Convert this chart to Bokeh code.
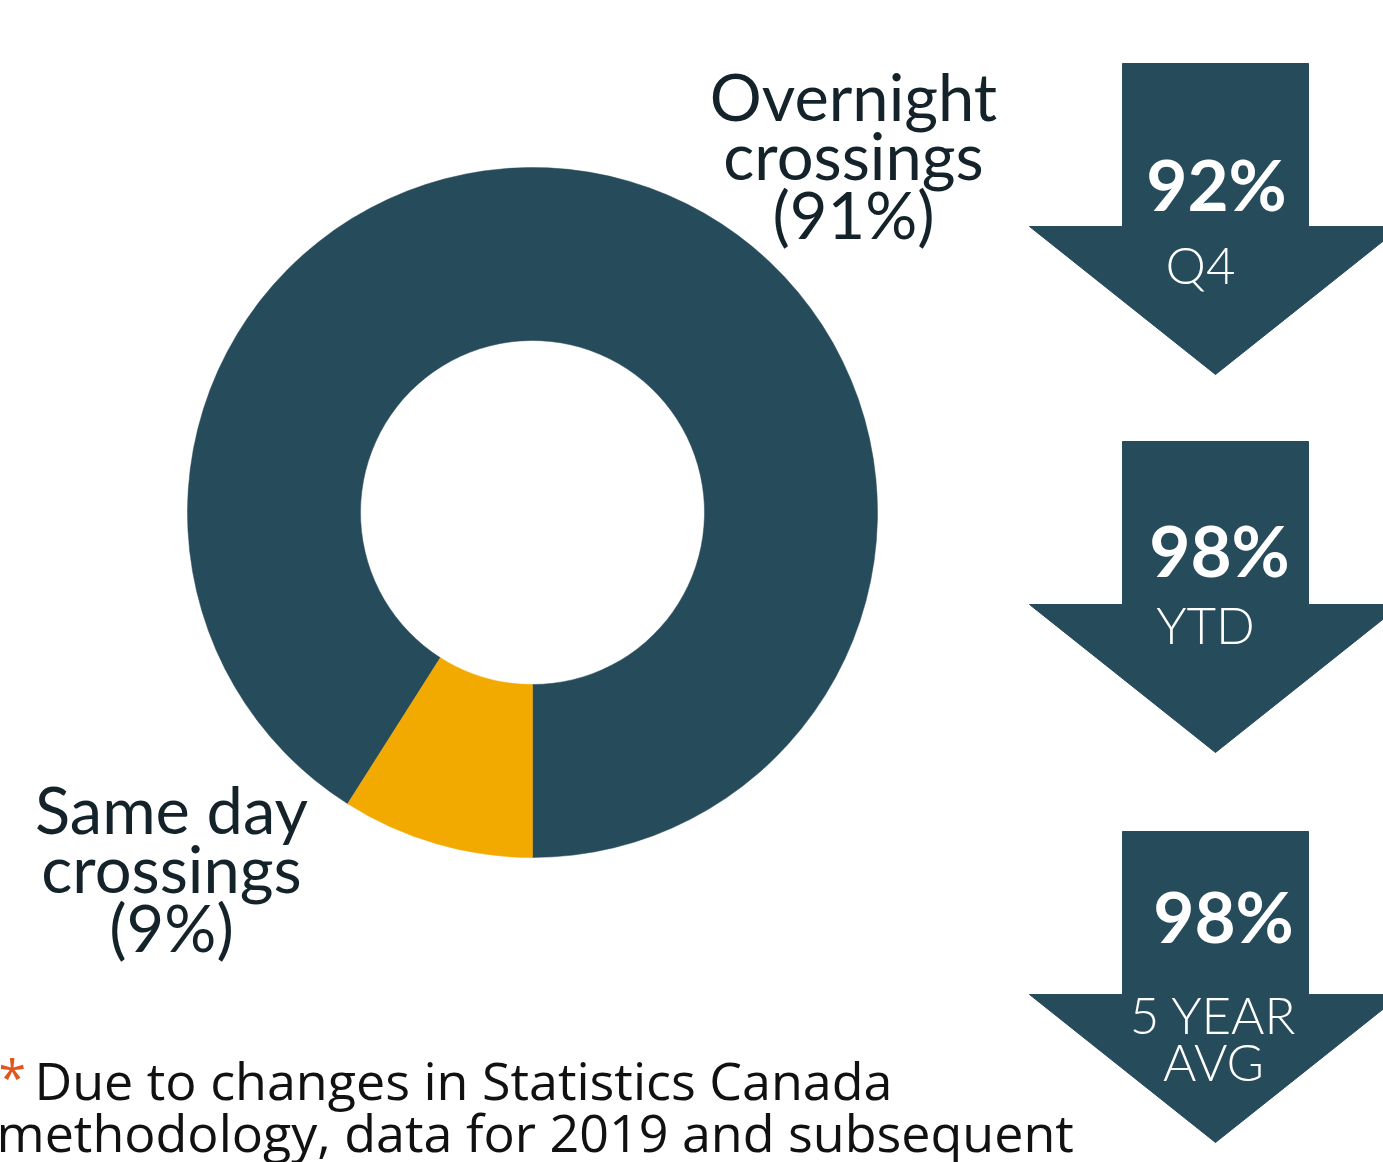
from math import pi
from bokeh.plotting import figure
from bokeh.models import Range1d, ColumnDataSource
from bokeh.core.properties import value
from bokeh.embed import file_html
from bokeh.resources import INLINE

# ---- data ----
categories = ["Overnight crossings", "Same day crossings"]
shares = [91, 9]
slice_labels = ["Overnight\ncrossings\n(91%)", "Same day\ncrossings\n(9%)"]
arrow_values = ["92%", "98%", "98%"]
arrow_periods = ["Q4", "YTD", "5 YEAR\nAVG"]
footnote_lines = ["Due to changes in Statistics Canada",
                  "methodology, data for 2019 and subsequent"]

DARK = "#264B5B"
GOLD = "#F2AA00"
INK = "#14222A"

W, H = 1383, 1162
p = figure(width=W, height=H, output_backend="svg", toolbar_location=None,
           x_range=Range1d(0, W), y_range=Range1d(0, H), min_border=0)
p.axis.visible = False
p.grid.visible = False
p.outline_line_color = None
p.background_fill_color = "white"

def Y(v):
    return H - v

def split_lines(labels, xs, ys_first, spacing):
    ox, oy, ot = [], [], []
    for lab, x, y0 in zip(labels, xs, ys_first):
        for i, line in enumerate(lab.split("\n")):
            ox.append(x)
            oy.append(Y(y0 + i * spacing))
            ot.append(line)
    return ox, oy, ot

# ---- donut ----
cx, cy = 532, Y(512)
base = 3 * pi / 2
same_start = base - shares[1] / 100 * 2 * pi
starts = [base, same_start]
ends = [base + shares[0] / 100 * 2 * pi, base]
src = ColumnDataSource(dict(cat=categories, start=starts, end=ends, color=[DARK, GOLD]))
p.annular_wedge(x=cx, y=cy, inner_radius=172, outer_radius=345,
                start_angle="start", end_angle="end", direction="anticlock",
                fill_color="color", line_color="color", line_width=0.5, source=src,
                inner_radius_units="screen", outer_radius_units="screen")

# ---- slice labels ----
lx, ly, lt = split_lines(slice_labels, [853, 171], [95, 808], 59)
p.text(x=lx, y=ly, text=lt,
       text_font=value("Lato"), text_font_size="65px", text_color=INK,
       text_align="center", text_baseline="middle")

# ---- arrows ----
tops = [63, 441, 831]
xs, ys = [], []
for t in tops:
    head = t + 163
    tip = head + 148
    xs.append([1122, 1308, 1308, 1401, 1215, 1029, 1122])
    ys.append([Y(t), Y(t), Y(head), Y(head), Y(tip), Y(head), Y(head)])
p.patches(xs=xs, ys=ys, fill_color=DARK, line_color=DARK)

p.text(x=[1216, 1219, 1223], y=[Y(183), Y(549), Y(915)], text=arrow_values,
       text_font=value("Lato"), text_font_style="bold", text_font_size="71px",
       text_color="white", text_align="center", text_baseline="middle")
ax, ay, at = split_lines(arrow_periods, [1200, 1205, 1213], [264, 624, 1014], 47)
p.text(x=ax, y=ay, text=at,
       text_font=value("Lato Light"), text_font_size="51px", text_color="white",
       text_align="center", text_baseline="middle")

# ---- footnote ----
p.text(x=[-2], y=[Y(1076)], text=["*"], text_font=value("Open Sans"),
       text_font_size="50px", text_color="#E0561C", text_align="left",
       text_baseline="middle")
p.text(x=[34, -4], y=[Y(1079), Y(1131)], text=footnote_lines,
       text_font=value("Open Sans"), text_font_size="52px", text_color="#111111",
       text_align="left", text_baseline="middle")

open("out.html", "w").write(file_html(p, INLINE))
